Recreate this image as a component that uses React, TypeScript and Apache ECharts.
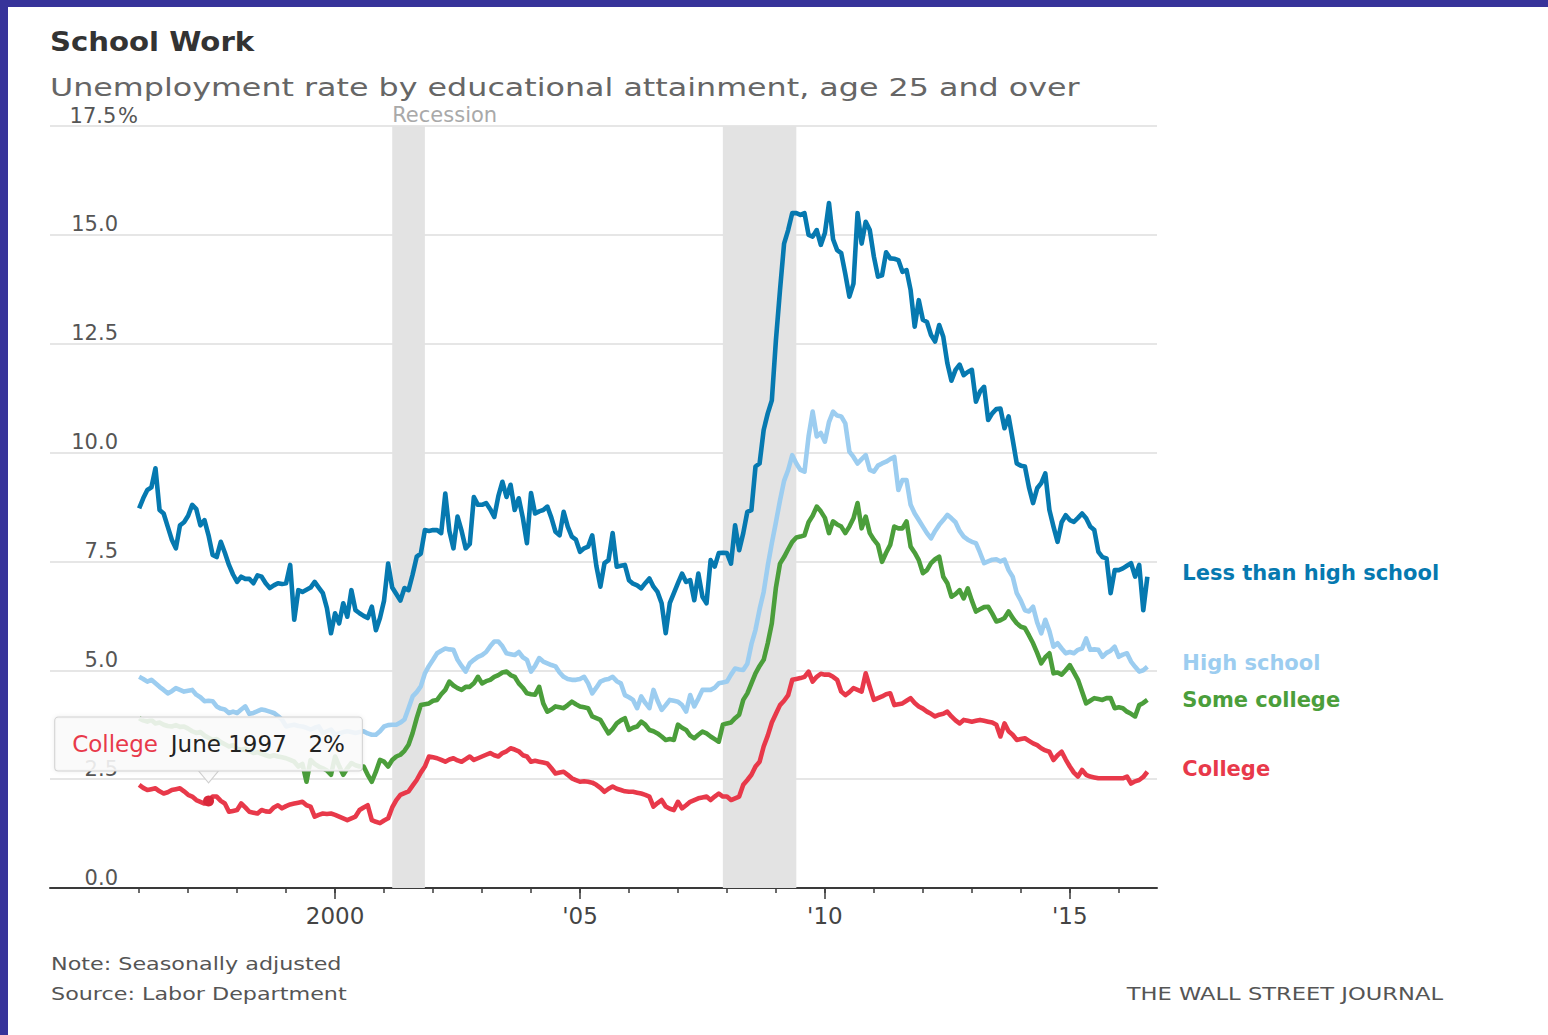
import React, { useEffect, useRef } from "react";
import * as echarts from "echarts";

const FONT = '"DejaVu Sans", sans-serif';

// Monthly data, January 1996 through August 2016 (unemployment rate, %)
const START_YEAR = 1996;

const lessThanHighSchool = [
  8.72, 8.95, 9.14, 9.2, 9.64, 8.68, 8.6, 8.3, 8.0, 7.8, 8.33, 8.4,
  8.55, 8.8, 8.7, 8.33, 8.45, 8.1, 7.65, 7.6, 7.95, 7.7, 7.42, 7.2,
  7.03, 7.15, 7.1, 7.1, 7.0, 7.18, 7.15, 7.0, 6.89, 6.95, 7.0, 6.98,
  7.0, 7.42, 6.16, 6.84, 6.8, 6.85, 6.9, 7.03, 6.9, 6.77, 6.43, 5.85,
  6.31, 6.08, 6.54, 6.23, 6.84, 6.38, 6.31, 6.25, 6.2, 6.46, 5.92, 6.2,
  6.6, 7.45, 6.9, 6.75, 6.6, 6.89, 6.84, 7.2, 7.61, 7.68, 8.22, 8.2,
  8.22, 8.22, 8.15, 9.06, 8.2, 7.8, 8.53, 8.2, 7.8, 7.9, 8.98, 8.8,
  8.8, 8.84, 8.7, 8.52, 9.0, 9.33, 8.98, 9.26, 8.68, 8.95, 8.5, 7.92,
  9.07, 8.6, 8.65, 8.68, 8.76, 8.5, 8.18, 8.1, 8.64, 8.3, 8.07, 8.0,
  7.72, 7.8, 7.84, 8.1, 7.4, 6.92, 7.46, 7.53, 8.15, 7.38, 7.4, 7.42,
  7.07, 6.99, 6.95, 6.88, 7.0, 7.11, 6.92, 6.8, 6.54, 5.85, 6.54, 6.77,
  7.0, 7.22, 7.03, 7.07, 6.61, 7.22, 6.69, 6.54, 7.53, 7.38, 7.69, 7.7,
  7.69, 7.45, 8.33, 7.76, 8.15, 8.64, 8.68, 9.68, 9.75, 10.52, 10.9, 11.2,
  12.58, 13.73, 14.8, 15.11, 15.5, 15.5, 15.46, 15.5, 15.0, 14.96, 15.11, 14.77,
  15.04, 15.73, 14.9, 14.65, 14.58, 14.1, 13.58, 13.88, 15.5, 14.8, 15.3, 15.11,
  14.5, 14.04, 14.07, 14.6, 14.46, 14.45, 14.42, 14.15, 14.19, 13.73, 12.89, 13.5,
  13.05, 13.0, 12.7, 12.55, 12.93, 12.66, 12.05, 11.65, 11.9, 12.02, 11.78, 11.85,
  11.9, 11.17, 11.4, 11.51, 10.75, 10.9, 11.0, 11.01, 10.56, 10.83, 10.3, 9.75,
  9.7, 9.68, 9.2, 8.84, 9.18, 9.3, 9.52, 8.68, 8.3, 7.95, 8.4, 8.56,
  8.45, 8.41, 8.5, 8.6, 8.49, 8.3, 8.22, 7.72, 7.6, 7.57, 6.77, 7.3,
  7.3, 7.34, 7.4, 7.46, 7.15, 7.42, 6.38, 7.15,
];

const highSchool = [
  4.85, 4.8, 4.74, 4.78, 4.7, 4.62, 4.55, 4.47, 4.52, 4.59, 4.55, 4.51,
  4.53, 4.55, 4.44, 4.38, 4.29, 4.3, 4.29, 4.17, 4.12, 4.1, 4.02, 4.05,
  4.02, 4.1, 4.17, 4.0, 4.02, 4.06, 4.1, 4.08, 4.05, 4.02, 3.95, 3.87,
  3.71, 3.73, 3.75, 3.72, 3.71, 3.68, 3.64, 3.68, 3.71, 3.56, 3.6, 3.64,
  3.52, 3.55, 3.58, 3.6, 3.58, 3.56, 3.58, 3.6, 3.55, 3.52, 3.52, 3.6,
  3.71, 3.74, 3.75, 3.75, 3.8, 3.87, 4.13, 4.4, 4.5, 4.63, 4.93, 5.1,
  5.24, 5.39, 5.45, 5.5, 5.48, 5.47, 5.24, 5.1, 4.97, 5.16, 5.24, 5.31,
  5.35, 5.42, 5.55, 5.66, 5.66, 5.55, 5.39, 5.37, 5.35, 5.42, 5.3, 5.24,
  4.97, 5.1, 5.28, 5.2, 5.16, 5.12, 5.09, 4.95, 4.85, 4.8, 4.78, 4.78,
  4.8, 4.85, 4.7, 4.47, 4.6, 4.74, 4.78, 4.8, 4.85, 4.75, 4.7, 4.43,
  4.38, 4.32, 4.13, 4.4, 4.25, 4.13, 4.55, 4.3, 4.09, 4.2, 4.32, 4.3,
  4.28, 4.2, 4.05, 4.43, 4.17, 4.35, 4.55, 4.55, 4.55, 4.6, 4.7, 4.72,
  4.74, 4.9, 5.04, 5.02, 5.01, 5.15, 5.6, 5.93, 6.4, 6.8, 7.4, 7.92,
  8.4, 8.9, 9.35, 9.6, 9.94, 9.75, 9.6, 9.56, 10.37, 10.94, 10.37, 10.45,
  10.25, 10.7, 10.94, 10.85, 10.83, 10.67, 10.02, 9.9, 9.75, 9.85, 9.94, 9.6,
  9.56, 9.7, 9.75, 9.79, 9.85, 9.9, 9.14, 9.37, 9.37, 8.8, 8.6, 8.45,
  8.3, 8.15, 8.03, 8.2, 8.34, 8.45, 8.57, 8.49, 8.4, 8.2, 8.07, 8.0,
  7.95, 7.92, 7.7, 7.46, 7.5, 7.54, 7.55, 7.5, 7.54, 7.3, 7.15, 6.77,
  6.6, 6.38, 6.35, 6.46, 6.1, 5.85, 6.16, 5.9, 5.54, 5.62, 5.5, 5.39,
  5.42, 5.39, 5.47, 5.5, 5.73, 5.47, 5.48, 5.47, 5.31, 5.4, 5.45, 5.54,
  5.31, 5.36, 5.39, 5.2, 5.08, 4.97, 5.0, 5.08,
];

const someCollege = [
  3.9, 3.85, 3.82, 3.86, 3.78, 3.8, 3.75, 3.72, 3.71, 3.74, 3.7, 3.71,
  3.66, 3.6, 3.56, 3.58, 3.5, 3.45, 3.4, 3.42, 3.35, 3.3, 3.25, 3.28,
  3.2, 3.17, 3.2, 3.15, 3.1, 3.12, 3.08, 3.05, 3.02, 3.05, 3.02, 3.0,
  2.98, 2.94, 2.9, 2.79, 2.85, 2.44, 2.94, 2.85, 2.79, 2.75, 2.7, 2.6,
  3.02, 2.8, 2.6, 2.75, 2.87, 2.82, 2.79, 2.79, 2.6, 2.44, 2.67, 2.94,
  2.9, 2.79, 2.94, 3.02, 3.06, 3.15, 3.29, 3.56, 3.9, 4.2, 4.22, 4.24,
  4.3, 4.32, 4.45, 4.55, 4.74, 4.65, 4.59, 4.55, 4.62, 4.62, 4.7, 4.85,
  4.7, 4.75, 4.78, 4.85, 4.89, 4.95, 4.97, 4.89, 4.85, 4.7, 4.6, 4.47,
  4.45, 4.44, 4.62, 4.24, 4.05, 4.1, 4.17, 4.15, 4.13, 4.2, 4.28, 4.22,
  4.17, 4.15, 4.13, 3.94, 3.9, 3.86, 3.7, 3.55, 3.65, 3.78, 3.85, 3.9,
  3.63, 3.68, 3.71, 3.82, 3.75, 3.63, 3.6, 3.55, 3.48, 3.4, 3.42, 3.4,
  3.75, 3.68, 3.63, 3.5, 3.44, 3.52, 3.59, 3.55, 3.48, 3.42, 3.36, 3.75,
  3.78, 3.8, 3.9, 3.98, 4.32, 4.47, 4.7, 4.93, 5.1, 5.24, 5.62, 6.08,
  6.9, 7.45, 7.6, 7.78, 7.95, 8.05, 8.07, 8.1, 8.4, 8.55, 8.76, 8.65,
  8.5, 8.15, 8.42, 8.35, 8.3, 8.15, 8.3, 8.49, 8.84, 8.26, 8.53, 8.15,
  8.0, 7.88, 7.49, 7.7, 7.88, 8.3, 8.26, 8.26, 8.42, 7.84, 7.7, 7.53,
  7.23, 7.3, 7.46, 7.55, 7.61, 7.15, 7.0, 6.69, 6.75, 6.84, 6.65, 6.88,
  6.6, 6.35, 6.4, 6.45, 6.46, 6.3, 6.12, 6.15, 6.2, 6.35, 6.2, 6.08,
  6.0, 5.97, 5.8, 5.62, 5.4, 5.16, 5.3, 5.39, 4.93, 4.95, 4.9, 5.0,
  5.12, 4.95, 4.78, 4.51, 4.24, 4.3, 4.36, 4.34, 4.32, 4.36, 4.36, 4.13,
  4.15, 4.13, 4.05, 4.0, 3.94, 4.2, 4.25, 4.32,
];

const college = [
  2.37, 2.3, 2.25, 2.27, 2.29, 2.22, 2.17, 2.2, 2.25, 2.27, 2.29, 2.22,
  2.14, 2.1, 2.02, 1.98, 1.94, 2.0, 2.1, 2.1, 2.0, 1.94, 1.75, 1.77,
  1.79, 1.94, 1.85, 1.75, 1.73, 1.71, 1.79, 1.76, 1.75, 1.85, 1.9, 1.83,
  1.88, 1.92, 1.94, 1.96, 1.98, 1.9, 1.87, 1.64, 1.68, 1.71, 1.7, 1.71,
  1.68, 1.64, 1.6, 1.56, 1.6, 1.64, 1.79, 1.85, 1.9, 1.56, 1.52, 1.49,
  1.55, 1.6, 1.85, 2.02, 2.14, 2.18, 2.22, 2.35, 2.48, 2.65, 2.79, 3.02,
  3.0, 2.98, 2.94, 2.9, 2.95, 2.98, 2.93, 2.9, 2.96, 3.02, 2.94, 2.98,
  3.02, 3.06, 3.1, 3.05, 3.02, 3.1, 3.14, 3.21, 3.18, 3.14, 3.05, 3.02,
  2.9, 2.92, 2.9, 2.88, 2.86, 2.75, 2.63, 2.65, 2.67, 2.6, 2.52, 2.48,
  2.44, 2.45, 2.44, 2.42, 2.37, 2.3, 2.21, 2.28, 2.33, 2.28, 2.25, 2.22,
  2.21, 2.21, 2.19, 2.17, 2.14, 2.1, 1.87, 1.95, 2.02, 1.87, 1.82, 1.79,
  1.98, 1.83, 1.9, 1.98, 2.02, 2.06, 2.08, 2.1, 2.02, 2.1, 2.17, 2.1,
  2.1, 2.02, 2.06, 2.1, 2.37, 2.48, 2.6, 2.79, 2.9, 3.25, 3.5, 3.8,
  4.0, 4.2, 4.3, 4.43, 4.78, 4.8, 4.82, 4.85, 4.97, 4.74, 4.85, 4.92,
  4.9, 4.9, 4.85, 4.78, 4.51, 4.43, 4.5, 4.59, 4.55, 4.51, 4.93, 4.62,
  4.32, 4.36, 4.4, 4.45, 4.47, 4.2, 4.22, 4.24, 4.3, 4.36, 4.25, 4.17,
  4.12, 4.05, 4.0, 3.94, 3.98, 4.0, 4.05, 3.94, 3.85, 3.78, 3.86, 3.84,
  3.82, 3.84, 3.86, 3.84, 3.82, 3.8, 3.75, 3.48, 3.78, 3.6, 3.52, 3.4,
  3.42, 3.44, 3.38, 3.32, 3.28, 3.21, 3.16, 3.13, 2.94, 3.05, 3.13, 2.95,
  2.79, 2.65, 2.56, 2.71, 2.6, 2.56, 2.54, 2.52, 2.52, 2.52, 2.52, 2.52,
  2.52, 2.52, 2.56, 2.4, 2.45, 2.48, 2.55, 2.67,
];

const seriesNames = ["Less than high school", "High school", "Some college", "College"];
const seriesColors = ["#0679b0", "#9ccdf0", "#4b9e3b", "#e8394a"];

// Recessions (decimal years): Mar–Nov 2001, Dec 2007–Jun 2009
const recessionStarts = [2001 + 2 / 12, 2007 + 11 / 12];
const recessionEnds = [2001 + 10 / 12, 2009 + 5 / 12];

const minorTickYears = [1996, 1997, 1998, 1999, 2000, 2001, 2002, 2003, 2004, 2005, 2006, 2007, 2008, 2009, 2010, 2011, 2012, 2013, 2014, 2015, 2016];
const labelYears = [2000, 2005, 2010, 2015];
const yTickValues = [0, 2.5, 5, 7.5, 10, 12.5, 15, 17.5];

// Highlighted point: College, June 1997
const highlightYear = 1997;
const highlightMonthIndex = 17;

const X_MIN = 1994.18;
const X_MAX = 2016.78;

function toPoints(values: number[]) {
  return values.map((v, i) => [START_YEAR + i / 12, v]);
}

function yearLabel(v: number) {
  if (v === 2000) return "2000";
  return "'" + String(v).slice(2);
}

export default function App() {
  const ref = useRef<HTMLDivElement>(null);

  useEffect(() => {
    if (!ref.current) return;
    const chart = echarts.init(ref.current, null, { renderer: "svg" });

    const allValues = [lessThanHighSchool, highSchool, someCollege, college];
    const labelOffsets = [[0, -4], [0, -4], [0, 0], [0, -3]];

    const lineSeries: any[] = allValues.map((vals, idx) => {
      const s: any = {
        type: "line",
        name: seriesNames[idx],
        data: toPoints(vals),
        xAxisIndex: 0,
        yAxisIndex: 0,
        showSymbol: false,
        symbol: "none",
        silent: true,
        z: 3,
        lineStyle: { color: seriesColors[idx], width: 4.6, join: "round" },
        itemStyle: { color: seriesColors[idx] },
        emphasis: { disabled: true },
        endLabel: {
          show: true,
          formatter: (p: any) => p.seriesName,
          color: seriesColors[idx],
          fontFamily: FONT,
          fontSize: 21,
          fontWeight: "bold",
          distance: 35,
          offset: labelOffsets[idx],
        },
      };
      if (idx === 3) {
        const hx = highlightYear + 5 / 12;
        const hy = vals[highlightMonthIndex];
        s.markPoint = {
          silent: true,
          animation: false,
          data: [
            {
              coord: [hx, hy],
              symbol: "circle",
              symbolSize: 11,
              itemStyle: { color: "#d9283a" },
              label: { show: false },
            },
            {
              coord: [hx, hy],
              symbol: "triangle",
              symbolRotate: 180,
              symbolSize: [20, 12],
              symbolOffset: [0, -24],
              itemStyle: { color: "rgba(251,251,251,0.93)", borderColor: "#cfcfcf", borderWidth: 1 },
              label: {
                show: true,
                position: "top",
                distance: 0,
                formatter: "{c|College} {t|June 1997}  {v|2%}",
                backgroundColor: "rgba(251,251,251,0.88)",
                borderColor: "#d2d2d2",
                borderWidth: 1,
                borderRadius: 3,
                padding: [15, 17, 15, 17],
                shadowColor: "rgba(0,0,0,0.08)",
                shadowBlur: 4,
                rich: {
                  c: { color: "#e8394a", fontSize: 23, fontFamily: FONT, padding: [0, 9, 0, 0] },
                  t: { color: "#222222", fontSize: 23, fontFamily: FONT, padding: [0, 14, 0, 0] },
                  v: { color: "#222222", fontSize: 23, fontFamily: FONT },
                },
              },
            },
          ],
        };
      }
      return s;
    });

    const recessionSeries = {
      type: "line",
      name: "Recession",
      data: [],
      silent: true,
      z: 1,
      markArea: {
        silent: true,
        itemStyle: { color: "#e3e3e3" },
        data: recessionStarts.map((start, i) => [
          {
            xAxis: start,
            label:
              i === 0
                ? {
                    show: true,
                    formatter: "Recession",
                    position: [0, -1],
                    align: "left",
                    verticalAlign: "bottom",
                    color: "#a9a9a9",
                    fontSize: 21,
                    fontFamily: FONT,
                  }
                : { show: false },
          },
          { xAxis: recessionEnds[i] },
        ]),
      },
    };

    const option: any = {
      animation: false,
      backgroundColor: "#ffffff",
      textStyle: { fontFamily: FONT },
      grid: { left: 42, top: 119, width: 1107, height: 762, containLabel: false },
      xAxis: [
        {
          type: "value",
          min: X_MIN,
          max: X_MAX,
          position: "bottom",
          axisLine: { show: true, lineStyle: { color: "#3a3a3a", width: 2 } },
          axisTick: {
            show: true,
            customValues: minorTickYears,
            length: 5,
            lineStyle: { color: "#3a3a3a", width: 1.5 },
          },
          axisLabel: {
            show: true,
            customValues: labelYears,
            formatter: (v: number) => yearLabel(v),
            fontSize: 23,
            color: "#444444",
            margin: 16,
            fontFamily: FONT,
          },
          splitLine: { show: false },
        },
        {
          type: "value",
          min: X_MIN,
          max: X_MAX,
          position: "bottom",
          axisLine: { show: false },
          axisTick: {
            show: true,
            customValues: labelYears,
            length: 11,
            lineStyle: { color: "#3a3a3a", width: 1.5 },
          },
          axisLabel: { show: false },
          splitLine: { show: false },
        },
      ],
      yAxis: {
        type: "value",
        min: 0,
        max: 17.5,
        interval: 2.5,
        axisLine: { show: false },
        axisTick: { show: false },
        splitLine: { show: true, lineStyle: { color: "#dedede", width: 1.5 } },
        axisLabel: {
          inside: true,
          margin: 18,
          align: "left",
          verticalAlign: "bottom",
          formatter: (v: number) => {
            const hit = yTickValues.find((t) => Math.abs(t - v) < 1e-6);
            const val = hit === undefined ? v : hit;
            return val === 17.5 ? "{n|17.5}{p|%}" : "{n|" + val.toFixed(1) + "}";
          },
          rich: {
            n: { width: 50, align: "right", fontSize: 21, color: "#555555", fontFamily: FONT },
            p: { fontSize: 21, color: "#555555", fontFamily: FONT },
          },
        },
      },
      series: [recessionSeries, ...lineSeries],
      graphic: [
        {
          type: "text",
          x: 42,
          y: 35,
          scaleX: 1.08,
          silent: true,
          style: { text: "School Work", fill: "#333333", fontSize: 27, fontWeight: "bold", fontFamily: FONT, verticalAlign: "middle" },
        },
        {
          type: "text",
          x: 42,
          y: 80,
          scaleX: 1.27,
          silent: true,
          style: {
            text: "Unemployment rate by educational attainment, age 25 and over",
            fill: "#666666",
            fontSize: 25,
            fontFamily: FONT,
            verticalAlign: "middle",
          },
        },
        {
          type: "text",
          x: 43,
          y: 957,
          scaleX: 1.31,
          silent: true,
          style: { text: "Note: Seasonally adjusted", fill: "#555555", fontSize: 17, fontFamily: FONT, verticalAlign: "middle" },
        },
        {
          type: "text",
          x: 43,
          y: 987,
          scaleX: 1.31,
          silent: true,
          style: { text: "Source: Labor Department", fill: "#555555", fontSize: 17, fontFamily: FONT, verticalAlign: "middle" },
        },
        {
          type: "text",
          x: 1435,
          y: 987,
          scaleX: 1.33,
          silent: true,
          style: { text: "THE WALL STREET JOURNAL", fill: "#555555", fontSize: 17, fontFamily: FONT, align: "right", verticalAlign: "middle" },
        },
      ],
    };

    chart.setOption(option);
    return () => {
      chart.dispose();
    };
  }, []);

  return (
    <div style={{ position: "fixed", left: 0, top: 0, width: 1548, height: 1035, background: "#37339a", overflow: "hidden" }}>
      <div ref={ref} style={{ position: "absolute", left: 8, top: 7, width: 1540, height: 1028, background: "#ffffff" }} />
    </div>
  );
}
